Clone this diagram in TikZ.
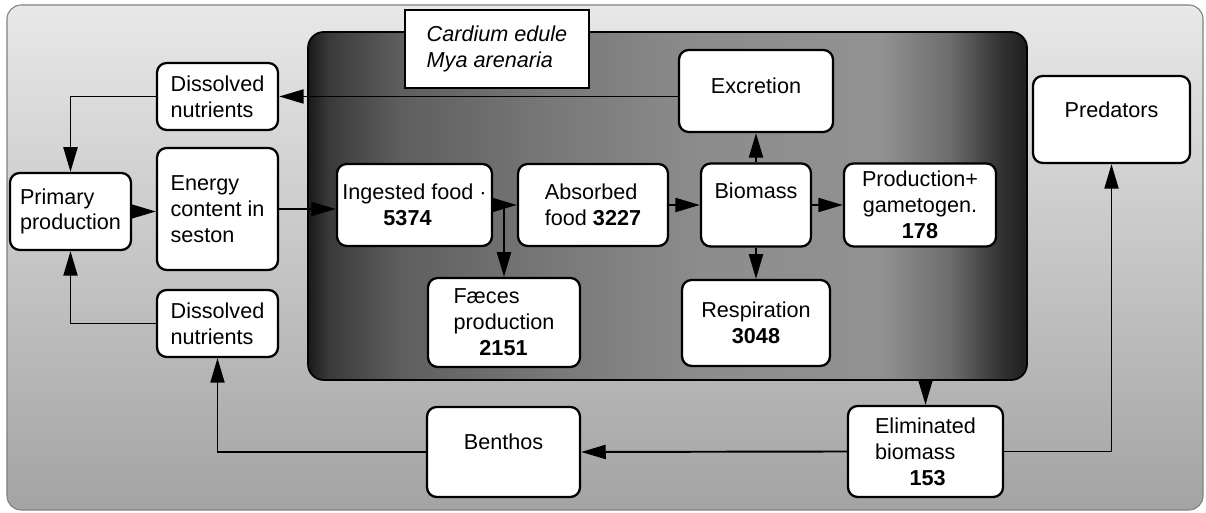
\documentclass[tikz,border=0pt]{standalone}
\usepackage{fontspec}
\setmainfont{Liberation Sans}
\usetikzlibrary{arrows.meta,calc}
\pgfdeclarehorizontalshading{musselshade}{100bp}{color(0bp)=(black!90); color(25bp)=(black!90); color(26.5bp)=(black!77); color(31.4bp)=(black!63); color(41.8bp)=(black!53); color(52.3bp)=(black!45); color(64.8bp)=(black!43); color(69.6bp)=(black!57); color(73.1bp)=(black!80); color(75bp)=(black!88); color(100bp)=(black!88)}

\begin{document}
\begin{tikzpicture}[>={Triangle[length=14pt,width=8pt]},
	box/.style={draw, line width=1.3pt, rounded corners=5.5pt, fill=white, align=left, inner sep=2pt, font=\fontsize{12.3}{14.7}\selectfont},
	flow/.style={->, line width=1.1pt}]
	\useasboundingbox (0,0) rectangle (24.12,10.26);
	\draw [gray, line width=0.6pt, rounded corners=8pt, top color=gray!18, bottom color=gray!72] (0.14,0.06) rectangle (24.06,10.16);
	\node [draw, line width=1pt, rounded corners=9pt, shade, shading=musselshade, minimum width=14.38cm, minimum height=6.96cm] (clams) at (13.35,6.14) {};
	\node [draw, fill=white, line width=1.3pt, align=left, font=\fontsize{12.3}{14.7}\selectfont\itshape, minimum width=3.68cm, minimum height=1.56cm] (title) at (9.94,9.28) {Cardium edule\\Mya arenaria};
	
	\node [box, minimum width=2.42cm, minimum height=1.34cm] (dnt) at (4.35,8.33) {Dissolved\\nutrients};
	\node [box, minimum width=2.42cm, minimum height=2.44cm] (en) at (4.35,6.08) {Energy\\content in\\seston};
	\node [box, minimum width=2.42cm, minimum height=1.54cm] (prim) at (1.41,6.03) {Primary\\production};
	\node [box, minimum width=2.42cm, minimum height=1.34cm] (dnb) at (4.35,3.79) {Dissolved\\nutrients};
	
	\node [box, minimum width=3.1cm, minimum height=1.64cm] (ing) at (8.29,6.16) {Ingested food ·\\\hspace*{1.9em}\textbf{5374}};
	\node [box, minimum width=3.0cm, minimum height=1.64cm] (abs) at (11.86,6.16) {Absorbed\\food \textbf{3227}};
	\node [box, minimum width=2.2cm, minimum height=1.66cm, text depth=15.9pt] (bio) at (15.12,6.16) {Biomass};
	\node [box, align=center, minimum width=3.04cm, minimum height=1.66cm] (prod) at (18.4,6.16) {Production+\\gametogen.\\\textbf{178}};
	\node [box, minimum width=3.08cm, minimum height=1.64cm, text depth=5.7pt] (exc) at (15.12,8.44) {Excretion};
	\node [box, align=center, minimum width=2.96cm, minimum height=1.72cm] (res) at (15.12,3.8) {Respiration\\\textbf{3048}};
	\node [box, minimum width=3.04cm, minimum height=1.78cm] (fae) at (10.08,3.81) {Fæces\\production\\\hspace*{1.2em}\textbf{2151}};
	
	\node [box, minimum width=3.14cm, minimum height=1.74cm, text depth=10.8pt] (pred) at (22.23,7.87) {Predators};
	\node [box, minimum width=3.06cm, minimum height=1.8cm, text depth=11.3pt] (ben) at (10.07,1.22) {Benthos};
	\node [box, minimum width=3.1cm, minimum height=1.82cm] (elim) at (18.51,1.23) {Eliminated\\biomass\\\hspace*{1.6em}\textbf{153}};
	
	\draw [flow] (exc.west |- dnt.east) -- (dnt.east);
	\draw [flow] (dnt.west) -| (prim.north);
	\draw [flow] (dnb.west) -| (prim.south);
	\draw [flow] (prim.east) -- (prim.east -| en.west);
	\draw [flow] (en.east) -- (en.east -| ing.west);
	\draw [flow] (ing.east) -- (abs.west);
	\draw [flow] (fae.north |- ing.east) -- (fae.north);
	\draw [flow] (abs.east) -- (bio.west);
	\draw [flow] (bio.east) -- (prod.west);
	\draw [flow] (bio.north) -- (exc.south);
	\draw [flow] (bio.south) -- (res.north);
	\draw [flow] (elim.north |- clams.south) -- (elim.north);
	\draw [flow] (elim.west) -- (ben.east);
	\draw [flow] (ben.west) -| (dnb.south);
	\draw [flow] (elim.east) -| (pred.south);
\end{tikzpicture}
\end{document}
